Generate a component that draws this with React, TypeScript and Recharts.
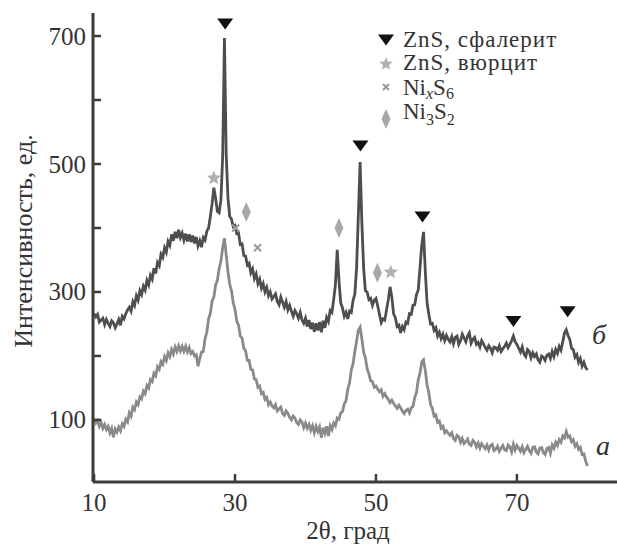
import React from "react";
import { ComposedChart, Line, Scatter, XAxis, YAxis } from "recharts";

// sample б (upper curve), 2θ = 10..80 step 0.25
const intensityB = [
  266, 261, 265, 253, 256, 259, 249, 257, 251, 246, 255, 252, 244, 250, 257, 248, 262, 258, 266, 272,
  276, 270, 285, 279, 294, 287, 302, 296, 309, 303, 318, 311, 326, 320, 337, 329, 346, 341, 359, 354,
  369, 362, 379, 373, 390, 380, 394, 384, 397, 385, 392, 381, 391, 379, 390, 378, 388, 376, 386, 372,
  380, 370, 385, 381, 395, 400, 418, 438, 463, 446, 426, 424, 444, 512, 697, 515, 447, 418, 414, 402,
  404, 391, 392, 374, 375, 357, 356, 342, 345, 330, 336, 321, 328, 313, 320, 306, 313, 300, 307, 294,
  300, 289, 293, 297, 285, 280, 292, 284, 276, 285, 272, 279, 270, 262, 271, 266, 259, 268, 256, 251,
  259, 246, 256, 242, 252, 238, 251, 240, 253, 237, 255, 244, 260, 254, 271, 268, 288, 312, 366, 318,
  283, 275, 262, 268, 258, 270, 268, 287, 296, 338, 420, 503, 408, 337, 302, 300, 288, 290, 279, 287,
  290, 278, 265, 252, 258, 256, 272, 288, 308, 292, 266, 260, 246, 248, 236, 246, 241, 253, 251, 266,
  265, 279, 280, 296, 303, 338, 374, 394, 332, 283, 265, 250, 251, 240, 244, 231, 237, 227, 234, 224,
  232, 226, 222, 230, 219, 229, 231, 218, 224, 234, 228, 222, 231, 236, 220, 226, 229, 218, 221, 214,
  224, 219, 213, 209, 216, 212, 205, 214, 213, 209, 216, 207, 211, 215, 220, 213, 218, 224, 231, 222,
  218, 212, 206, 214, 203, 199, 210, 207, 197, 205, 199, 203, 194, 190, 200, 198, 193, 201, 203, 196,
  207, 199, 210, 204, 215, 209, 222, 236, 241, 232, 226, 212, 210, 198, 202, 190, 196, 184, 190, 182,
  178,
];

// sample а (lower curve)
const intensityA = [
  102, 95, 99, 90, 96, 87, 93, 85, 90, 80, 87, 73, 86, 81, 89, 83, 94, 90, 101, 97,
  111, 106, 120, 116, 128, 124, 136, 133, 145, 141, 154, 150, 163, 160, 173, 169, 183, 179, 191, 187,
  199, 193, 205, 199, 210, 203, 214, 207, 216, 208, 215, 207, 215, 206, 213, 204, 207, 200, 202, 184,
  196, 206, 207, 227, 237, 258, 267, 286, 292, 311, 318, 337, 348, 369, 384, 358, 332, 312, 302, 283,
  273, 254, 248, 231, 228, 212, 208, 193, 193, 179, 178, 164, 163, 151, 153, 141, 143, 132, 135, 124,
  128, 122, 119, 124, 114, 117, 120, 110, 107, 114, 110, 104, 100, 106, 103, 96, 93, 100, 97, 88,
  95, 87, 93, 84, 91, 80, 90, 82, 89, 72, 88, 79, 90, 75, 91, 85, 95, 91, 103, 101,
  111, 113, 125, 130, 148, 158, 178, 188, 207, 223, 240, 245, 227, 206, 197, 180, 172, 161, 160, 151,
  153, 148, 144, 147, 137, 141, 136, 132, 127, 131, 126, 122, 118, 123, 119, 114, 110, 115, 117, 111,
  119, 121, 135, 143, 163, 173, 191, 194, 177, 155, 142, 124, 118, 106, 108, 96, 98, 87, 90, 80,
  83, 79, 76, 80, 71, 68, 76, 74, 65, 71, 63, 66, 70, 62, 60, 68, 65, 58, 64, 56,
  63, 59, 55, 61, 53, 60, 62, 52, 54, 59, 51, 56, 60, 53, 52, 61, 58, 50, 62, 53,
  60, 56, 51, 58, 49, 54, 59, 52, 48, 57, 58, 50, 47, 56, 57, 49, 46, 55, 57, 48,
  61, 56, 65, 60, 69, 65, 75, 72, 82, 73, 75, 66, 69, 59, 63, 54, 57, 46, 47, 36,
  28,
];

const START = 10;
const STEP = 0.25;
const twoTheta = intensityB.map((_, i) => START + i * STEP);

const xTicks = [10, 30, 50, 70];
const yTicks = [100, 200, 300, 400, 500, 600, 700];
const yLabelled = [100, 300, 500, 700];

// phase markers (2θ, intensity)
const sphaleriteX = [28.6, 47.8, 56.6, 69.5, 77.2];
const sphaleriteY = [719, 528, 417, 254, 269];
const wurtziteX = [27.0, 52.1];
const wurtziteY = [478, 331];
const nixs6X = [30.1, 33.2];
const nixs6Y = [400, 369];
const ni3s2X = [31.6, 44.75, 50.2];
const ni3s2Y = [425, 400, 330];

const data = twoTheta.map((x, i) => ({ x, b: intensityB[i], a: intensityA[i] }));
const toPoints = (xs: number[], ys: number[]) => xs.map((x, i) => ({ x, y: ys[i] }));

const serif = "'Liberation Serif', 'Times New Roman', serif";
const axisColor = "#3c3c3c";
const textColor = "#333";
const markGray = "#a8a8a8";

function trianglePath(cx: number, cy: number) {
  return `M${cx - 8},${cy - 5.5}L${cx + 8},${cy - 5.5}L${cx},${cy + 5.5}Z`;
}

function starPath(cx: number, cy: number, r: number) {
  let d = "";
  for (let k = 0; k < 10; k++) {
    const a = (-90 + k * 36) * (Math.PI / 180);
    const rr = k % 2 === 0 ? r : r * 0.45;
    d += `${k === 0 ? "M" : "L"}${cx + rr * Math.cos(a)},${cy + rr * Math.sin(a)}`;
  }
  return d + "Z";
}

function diamondPath(cx: number, cy: number) {
  return `M${cx},${cy - 10}L${cx + 4.5},${cy}L${cx},${cy + 10}L${cx - 4.5},${cy}Z`;
}

const Sphalerite = (p: any) => <path d={trianglePath(p.cx, p.cy)} fill="#111" />;
const Wurtzite = (p: any) => <path d={starPath(p.cx, p.cy, 7.5)} fill="#b0b0b0" />;
const Ni3S2 = (p: any) => <path d={diamondPath(p.cx, p.cy)} fill={markGray} />;
const NixS6 = (p: any) => (
  <path
    d={`M${p.cx - 3.5},${p.cy - 3.5}L${p.cx + 3.5},${p.cy + 3.5}M${p.cx + 3.5},${p.cy - 3.5}L${p.cx - 3.5},${p.cy + 3.5}`}
    stroke="#999"
    strokeWidth={2}
  />
);

function YTick(props: any) {
  const { x, y, payload } = props;
  return (
    <g>
      <line x1={x} y1={y} x2={x + 8} y2={y} stroke={axisColor} strokeWidth={2.5} />
      {yLabelled.includes(payload.value) && (
        <text x={x - 7} y={y + 8.5} textAnchor="end" fontSize={25} fill={textColor} fontFamily={serif}>
          {payload.value}
        </text>
      )}
    </g>
  );
}

function XTick(props: any) {
  const { x, y, payload } = props;
  return (
    <g>
      <line x1={x} y1={y} x2={x} y2={y - 8} stroke={axisColor} strokeWidth={2.5} />
      <text x={x} y={y + 29} textAnchor="middle" fontSize={25} fill={textColor} fontFamily={serif}>
        {payload.value}
      </text>
    </g>
  );
}

export default function App() {
  return (
    <div style={{ position: "relative", width: 617, height: 544, background: "#fff" }}>
      <style>{"body{margin:0}"}</style>
      <ComposedChart width={617} height={544} data={data} margin={{ top: 13, right: 0, bottom: 0, left: 0 }}>
        <XAxis
          dataKey="x"
          type="number"
          domain={[9.85, 84.2]}
          allowDataOverflow
          ticks={xTicks}
          tick={<XTick />}
          tickLine={false}
          tickSize={0}
          tickMargin={0}
          height={62}
          axisLine={{ stroke: axisColor, strokeWidth: 3 }}
        />
        <YAxis
          type="number"
          domain={[3, 736]}
          allowDataOverflow
          ticks={yTicks}
          tick={<YTick />}
          tickLine={false}
          tickSize={0}
          tickMargin={0}
          width={93}
          axisLine={{ stroke: axisColor, strokeWidth: 3 }}
        />
        <Line dataKey="a" stroke="#8a8a8a" strokeWidth={2.8} dot={false} isAnimationActive={false} />
        <Line dataKey="b" stroke="#4e4e4e" strokeWidth={2.8} dot={false} isAnimationActive={false} />
        <Scatter data={toPoints(sphaleriteX, sphaleriteY)} dataKey="y" shape={Sphalerite} isAnimationActive={false} />
        <Scatter data={toPoints(wurtziteX, wurtziteY)} dataKey="y" shape={Wurtzite} isAnimationActive={false} />
        <Scatter data={toPoints(nixs6X, nixs6Y)} dataKey="y" shape={NixS6} isAnimationActive={false} />
        <Scatter data={toPoints(ni3s2X, ni3s2Y)} dataKey="y" shape={Ni3S2} isAnimationActive={false} />
      </ComposedChart>
      <svg
        width={617}
        height={544}
        style={{ position: "absolute", left: 0, top: 0, pointerEvents: "none" }}
        fontFamily={serif}
        fill={textColor}
      >
        {/* legend */}
        <path d={trianglePath(386, 40)} fill="#111" />
        <text x={403} y={47} fontSize={23} letterSpacing={1}>ZnS, сфалерит</text>
        <path d={starPath(386, 64, 7)} fill="#b0b0b0" />
        <text x={403} y={70} fontSize={23} letterSpacing={1}>ZnS, вюрцит</text>
        <path d="M383,84L389,90M389,84L383,90" stroke="#999" strokeWidth={2} />
        <text x={403} y={95} fontSize={23}>
          Ni<tspan fontStyle="italic" fontSize={16} dy={4}>x</tspan>
          <tspan dy={-4}>S</tspan>
          <tspan fontSize={16} dy={4}>6</tspan>
        </text>
        <path d={diamondPath(386, 119)} fill={markGray} />
        <text x={403} y={119} fontSize={23}>
          Ni<tspan fontSize={16} dy={6}>3</tspan>
          <tspan dy={-6}>S</tspan>
          <tspan fontSize={16} dy={6}>2</tspan>
        </text>
        {/* axis titles */}
        <text x={348} y={539} fontSize={25} textAnchor="middle">2θ, град</text>
        <text transform="translate(32,241) rotate(-90)" fontSize={26} textAnchor="middle">
          Интенсивность, ед.
        </text>
        {/* curve labels */}
        <text x={592} y={344} fontSize={28} fontStyle="italic">б</text>
        <text x={596} y={455} fontSize={28} fontStyle="italic">а</text>
      </svg>
    </div>
  );
}
